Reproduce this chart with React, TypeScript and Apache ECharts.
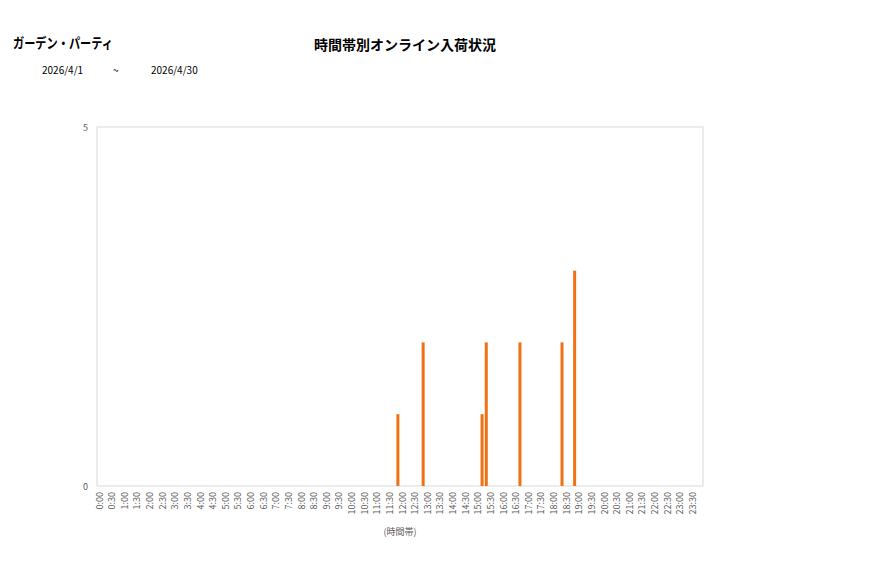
import { useEffect, useRef } from "react";
import * as echarts from "echarts";

const shopName = "ガーデン・パーティ";
const chartTitle = "時間帯別オンライン入荷状況";
const dateFrom = "2026/4/1";
const dateTo = "2026/4/30";
const xAxisName = "(時間帯)";

// 10-minute slots, 0:00 .. 23:50
const hours = Array.from({ length: 24 }, (_, h) => h);
const minutes = ["00", "10", "20", "30", "40", "50"];
const slots = hours.flatMap((h) => minutes.map((m) => `${h}:${m}`));

// arrivals per slot (all other slots are 0)
const arrivals: Record<string, number> = {
  "11:50": 1,
  "12:50": 2,
  "15:10": 1,
  "15:20": 2,
  "16:40": 2,
  "18:20": 2,
  "18:50": 3,
};

const yTicks = [0, 5];

const FONT = '"Noto Sans CJK JP", "Noto Sans", sans-serif';

export default function App() {
  const elRef = useRef<HTMLDivElement>(null);

  useEffect(() => {
    if (!elRef.current) return;
    const chart = echarts.init(elRef.current, undefined, { renderer: "svg" });
    chart.setOption({
      animation: false,
      backgroundColor: "#fff",
      textStyle: { fontFamily: FONT },
      graphic: [
        { type: "text", x: 13, y: 35, scaleX: 0.8, style: { text: shopName, font: `bold 14px ${FONT}`, fill: "#000" } },
        { type: "text", x: 405, y: 44, style: { text: chartTitle, font: `bold 14px ${FONT}`, fill: "#000", align: "center", verticalAlign: "middle" } },
        { type: "text", left: 42, top: 64, style: { text: dateFrom, font: `10px ${FONT}`, fill: "#000" } },
        { type: "text", left: 113, top: 64, style: { text: "~", font: `10px ${FONT}`, fill: "#000" } },
        { type: "text", left: 151, top: 64, style: { text: dateTo, font: `10px ${FONT}`, fill: "#000" } },
      ],
      grid: {
        left: 97, top: 127, width: 606, height: 359,
        show: true, borderColor: "#d9d9d9", borderWidth: 1, backgroundColor: "transparent",
      },
      xAxis: {
        type: "category",
        data: slots,
        name: xAxisName,
        nameLocation: "middle",
        nameGap: 41,
        nameTextStyle: { fontSize: 9, color: "#595959" },
        axisLine: { show: false },
        axisTick: { show: false },
        axisLabel: { interval: 2, rotate: 90, fontSize: 9, color: "#595959", margin: 6 },
      },
      yAxis: {
        type: "value",
        min: yTicks[0],
        max: yTicks[yTicks.length - 1],
        interval: 5,
        splitLine: { show: false },
        axisLine: { show: false },
        axisTick: { show: false },
        axisLabel: { fontSize: 9, color: "#595959", margin: 9 },
      },
      series: [
        {
          type: "bar",
          data: slots.map((s) => arrivals[s] ?? 0),
          barWidth: 3,
          itemStyle: { color: "#f07014" },
        },
      ],
    });
    return () => chart.dispose();
  }, []);

  return <div ref={elRef} style={{ position: "absolute", left: 0, top: 0, width: 877, height: 578 }} />;
}
